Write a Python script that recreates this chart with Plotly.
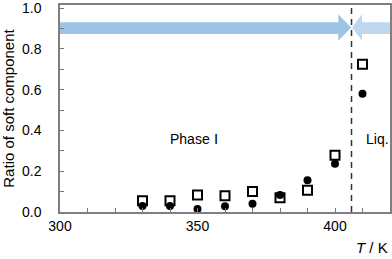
import plotly.graph_objects as go

temps = [330, 340, 350, 360, 370, 380, 390, 400, 410]
open_sq = [0.055, 0.055, 0.083, 0.080, 0.100, 0.070, 0.107, 0.278, 0.725]
filled_ci = [0.030, 0.030, 0.015, 0.028, 0.040, 0.083, 0.156, 0.237, 0.580]
transition_T = 406

fig = go.Figure()

# arrows (phase I -> right, liquid <- left)
left_arrow = ("M 300,0.873 L 401.2,0.873 L 401.2,0.84 L 405.9,0.905 "
              "L 401.2,0.97 L 401.2,0.93 L 300,0.93 Z")
right_arrow = ("M 420,0.873 L 409.8,0.873 L 409.8,0.84 L 406.2,0.905 "
               "L 409.8,0.97 L 409.8,0.93 L 420,0.93 Z")
fig.add_shape(type="path", path=left_arrow, xref="x", yref="y",
              fillcolor="rgb(157,195,230)", line=dict(width=0), layer="below")
fig.add_shape(type="path", path=right_arrow, xref="x", yref="y",
              fillcolor="rgb(189,215,238)", line=dict(width=0), layer="below")
fig.add_shape(type="line", x0=transition_T, x1=transition_T, y0=0, y1=1.015,
              xref="x", yref="y", line=dict(color="#333333", width=1.5, dash="6px,5px"))

fig.add_trace(go.Scatter(x=temps, y=filled_ci, mode="markers",
                         marker=dict(symbol="circle", size=8, color="black"),
                         showlegend=False, hoverinfo="skip"))
fig.add_trace(go.Scatter(x=temps, y=open_sq, mode="markers",
                         marker=dict(symbol="square-open", size=9, color="black",
                                     line=dict(width=2)),
                         showlegend=False, hoverinfo="skip"))

fig.add_annotation(text="Phase Ⅰ", x=(194 - 60) / 330 * 120 + 300, y=(212 - 139) / 204,
                   xref="x", yref="y", showarrow=False,
                   font=dict(size=14, color="black"))
fig.add_annotation(text="Liq.", x=(377 - 60) / 330 * 120 + 300, y=(212 - 139) / 204,
                   xref="x", yref="y", showarrow=False,
                   font=dict(size=14, color="black"))
fig.add_annotation(text="<i>T</i> / K", x=1, y=-36 / 207, xref="paper", yref="paper",
                   xanchor="right", yanchor="middle", showarrow=False,
                   font=dict(size=15, color="black"))

fig.update_xaxes(range=[300, 420], tickvals=[300, 350, 400], ticks="inside", ticklen=4,
                 tickcolor="#777777", minor=dict(dtick=10, tick0=300, ticks="inside",
                                                 ticklen=4, tickcolor="#777777"),
                 showline=True, linecolor="#7f7f7f", linewidth=1.5, mirror=True,
                 showgrid=False, zeroline=False, automargin=False,
                 ticklabeloverflow="allow",
                 tickfont=dict(size=14, color="black"))
fig.update_yaxes(range=[0, 1.015], tickvals=[0, 0.2, 0.4, 0.6, 0.8, 1.0],
                 tickformat=".1f", ticks="inside", ticklen=4, tickcolor="#777777",
                 minor=dict(dtick=0.1, tick0=0, ticks="inside", ticklen=4,
                            tickcolor="#777777"),
                 showline=True, linecolor="#7f7f7f", linewidth=1.5, mirror=True,
                 showgrid=False, zeroline=False, automargin=False,
                 ticklabeloverflow="allow", ticklabelstandoff=14,
                 tickfont=dict(size=14, color="black"),
                 title=dict(text="Ratio of soft component", standoff=4,
                            font=dict(size=15, color="black")))

fig.update_layout(width=392, height=259,
                  margin=dict(l=60, r=2, t=5, b=47, autoexpand=False),
                  paper_bgcolor="white", plot_bgcolor="white", hovermode=False,
                  font=dict(family="Liberation Sans, Arial, sans-serif", color="black"))

fig.write_html("out.html", config={"displayModeBar": False},
               post_script="document.body.style.margin='0';document.body.style.overflow='hidden';")
